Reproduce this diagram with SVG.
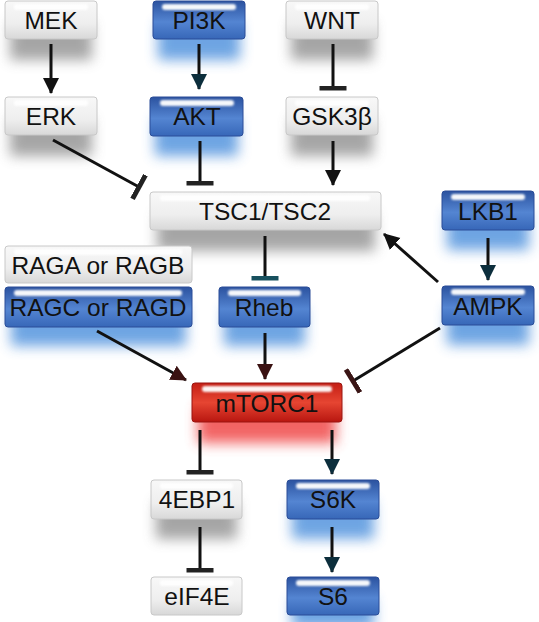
<svg xmlns="http://www.w3.org/2000/svg" width="539" height="622" viewBox="0 0 539 622">
<style>
text{font-family:"Liberation Sans",Arial,sans-serif;font-size:24.5px;fill:#111;text-anchor:middle}
.gbox{fill:url(#gGray);stroke:#c8c8c8;stroke-width:1}
.bbox{fill:url(#gBlue);stroke:#2a4d98;stroke-width:1}
.rbox{fill:url(#gRed);stroke:#9a1510;stroke-width:1}
.gsh{fill:#888;opacity:0.75;filter:url(#blur)}
.bsh{fill:#5f9be0;opacity:0.9;filter:url(#blur)}
.rsh{fill:#f04a4a;opacity:0.85;filter:url(#blur)}
.hl{fill:#fff;opacity:0.95;filter:url(#sblur)}
.c{stroke:#111;stroke-width:3;fill:none}
</style>
<defs>
<linearGradient id="gGray" x1="0" y1="0" x2="0" y2="1"><stop offset="0" stop-color="#f8f8f8"/><stop offset="0.6" stop-color="#eeeeee"/><stop offset="1" stop-color="#d8d8d8"/></linearGradient>
<linearGradient id="gBlue" x1="0" y1="0" x2="0" y2="1"><stop offset="0" stop-color="#2b529f"/><stop offset="0.55" stop-color="#5485d2"/><stop offset="1" stop-color="#3767b8"/></linearGradient>
<linearGradient id="gRed" x1="0" y1="0" x2="0" y2="1"><stop offset="0" stop-color="#c41e14"/><stop offset="0.5" stop-color="#e64532"/><stop offset="1" stop-color="#b81610"/></linearGradient>
<filter id="blur" x="-30%" y="-60%" width="160%" height="220%"><feGaussianBlur stdDeviation="6.5"/></filter>
<filter id="sblur" x="-10%" y="-100%" width="120%" height="300%"><feGaussianBlur stdDeviation="1.2"/></filter>
<marker id="ah" markerUnits="userSpaceOnUse" markerWidth="17" markerHeight="17" refX="15" refY="8" orient="auto"><path d="M0,0 L16,8 L0,16 z" fill="#111"/></marker>
<marker id="ahT" markerUnits="userSpaceOnUse" markerWidth="17" markerHeight="17" refX="15" refY="8" orient="auto"><path d="M0,0 L16,8 L0,16 z" fill="#0c2e3c"/></marker>
<marker id="ahR" markerUnits="userSpaceOnUse" markerWidth="17" markerHeight="17" refX="15" refY="8" orient="auto"><path d="M0,0 L16,8 L0,16 z" fill="#3a1212"/></marker>
<marker id="bar" markerUnits="userSpaceOnUse" markerWidth="6" markerHeight="28" refX="2.5" refY="13.5" orient="auto"><rect x="0" y="0" width="5" height="27" fill="#222"/></marker>
<marker id="barT" markerUnits="userSpaceOnUse" markerWidth="6" markerHeight="28" refX="2.5" refY="13.5" orient="auto"><rect x="0" y="0" width="5" height="27" fill="#17505e"/></marker>
<marker id="barR" markerUnits="userSpaceOnUse" markerWidth="6" markerHeight="28" refX="2.5" refY="13.5" orient="auto"><rect x="0" y="0" width="5" height="27" fill="#3a1515"/></marker>
</defs>

<g id="MEK"><rect class="gsh" x="10" y="22" width="82" height="38"/><rect class="gbox" x="5" y="1" width="92" height="38" rx="3"/><rect class="hl" x="14" y="4" width="74" height="6" rx="3"/><text x="51" y="28.5">MEK</text></g>
<g id="PI3K"><rect class="bsh" x="158" y="22" width="82" height="38"/><rect class="bbox" x="153" y="1" width="92" height="38" rx="3"/><rect class="hl" x="162" y="4" width="74" height="6" rx="3"/><text x="199" y="28.5">PI3K</text></g>
<g id="WNT"><rect class="gsh" x="291" y="22" width="82" height="38"/><rect class="gbox" x="286" y="1" width="92" height="38" rx="3"/><rect class="hl" x="295" y="4" width="74" height="6" rx="3"/><text x="332" y="28.5">WNT</text></g>
<g id="ERK"><rect class="gsh" x="10" y="118" width="82" height="38"/><rect class="gbox" x="5" y="97" width="92" height="38" rx="3"/><rect class="hl" x="14" y="100" width="74" height="6" rx="3"/><text x="51" y="124.5">ERK</text></g>
<g id="AKT"><rect class="bsh" x="155" y="118" width="83" height="38"/><rect class="bbox" x="150" y="97" width="93" height="39" rx="3"/><rect class="hl" x="160" y="100" width="74" height="6" rx="3"/><text x="197" y="124.5">AKT</text></g>
<g id="GSK3b"><rect class="gsh" x="291" y="118" width="82" height="38"/><rect class="gbox" x="286" y="97" width="92" height="38" rx="3"/><rect class="hl" x="295" y="100" width="74" height="6" rx="3"/><text x="332" y="124.5">GSK3β</text></g>
<g id="TSC"><rect class="gsh" x="157" y="213" width="218" height="38"/><rect class="gbox" x="150" y="192" width="231" height="38" rx="3"/><rect class="hl" x="160" y="195" width="210" height="6" rx="3"/><text x="265" y="219.5">TSC1/TSC2</text></g>
<g id="LKB1"><rect class="bsh" x="447" y="212" width="82" height="38"/><rect class="bbox" x="442" y="191" width="92" height="39" rx="3"/><rect class="hl" x="451" y="194" width="74" height="6" rx="3"/><text x="488" y="219.5">LKB1</text></g>
<g id="RAGAB"><rect class="gbox" x="5" y="246" width="187" height="37" rx="3"/><rect class="hl" x="14" y="249" width="168" height="6" rx="3"/><text x="98" y="273.5">RAGA or RAGB</text></g>
<g id="RAGCD"><rect class="bsh" x="11" y="308" width="175" height="38"/><rect class="bbox" x="5" y="287" width="187" height="40" rx="3"/><rect class="hl" x="14" y="290" width="168" height="6" rx="3"/><text x="98" y="315.5">RAGC or RAGD</text></g>
<g id="Rheb"><rect class="bsh" x="224" y="308" width="81" height="38"/><rect class="bbox" x="219" y="287" width="91" height="40" rx="3"/><rect class="hl" x="228" y="290" width="73" height="6" rx="3"/><text x="264" y="315.5">Rheb</text></g>
<g id="AMPK"><rect class="bsh" x="447" y="307" width="82" height="38"/><rect class="bbox" x="442" y="286" width="92" height="39" rx="3"/><rect class="hl" x="451" y="289" width="74" height="6" rx="3"/><text x="488" y="314.5">AMPK</text></g>
<g id="mTORC1"><rect class="rsh" x="198" y="405" width="138" height="38"/><rect class="rbox" x="192" y="383" width="150" height="39" rx="3"/><rect class="hl" x="202" y="386" width="130" height="6" rx="3"/><text x="267" y="411.5">mTORC1</text></g>
<g id="EBP1"><rect class="gsh" x="156" y="501" width="81" height="38"/><rect class="gbox" x="151" y="480" width="91" height="39" rx="3"/><rect class="hl" x="160" y="483" width="73" height="6" rx="3"/><text x="197" y="507.5">4EBP1</text></g>
<g id="S6K"><rect class="bsh" x="292" y="501" width="82" height="38"/><rect class="bbox" x="287" y="480" width="92" height="39" rx="3"/><rect class="hl" x="296" y="483" width="74" height="6" rx="3"/><text x="333" y="507.5">S6K</text></g>
<g id="eIF4E"><rect class="gbox" x="151" y="577" width="91" height="38" rx="3"/><rect class="hl" x="160" y="580" width="73" height="6" rx="3"/><text x="197" y="604.5">eIF4E</text></g>
<g id="S6"><rect class="bsh" x="292" y="598" width="82" height="30"/><rect class="bbox" x="287" y="577" width="92" height="38" rx="3"/><rect class="hl" x="296" y="580" width="74" height="6" rx="3"/><text x="333" y="604.5">S6</text></g>

<g id="connectors">
<line class="c" x1="51" y1="44" x2="51" y2="93" marker-end="url(#ah)"/>
<line class="c" x1="199" y1="44" x2="199" y2="89" marker-end="url(#ahT)"/>
<line class="c" x1="333" y1="44" x2="333" y2="88" marker-end="url(#bar)"/>
<line class="c" x1="200" y1="141" x2="200" y2="183" marker-end="url(#bar)"/>
<line class="c" x1="53" y1="140" x2="139" y2="187" marker-end="url(#bar)"/>
<line class="c" x1="333" y1="141" x2="333" y2="185" marker-end="url(#ah)"/>
<line class="c" x1="265" y1="236" x2="265" y2="278" marker-end="url(#barT)"/>
<line class="c" x1="488" y1="238" x2="488" y2="280" marker-end="url(#ahT)"/>
<line class="c" x1="438" y1="282" x2="384" y2="234" marker-end="url(#ah)"/>
<line class="c" x1="440" y1="328" x2="353" y2="381" marker-end="url(#barR)"/>
<line class="c" x1="97" y1="331" x2="186" y2="380" marker-end="url(#ahR)"/>
<line class="c" x1="265" y1="333" x2="265" y2="379" marker-end="url(#ahR)"/>
<line class="c" x1="200" y1="430" x2="200" y2="472" marker-end="url(#bar)"/>
<line class="c" x1="332" y1="430" x2="332" y2="474" marker-end="url(#ahT)"/>
<line class="c" x1="200" y1="527" x2="200" y2="570" marker-end="url(#bar)"/>
<line class="c" x1="332" y1="527" x2="332" y2="572" marker-end="url(#ahT)"/>
</g>
</svg>
